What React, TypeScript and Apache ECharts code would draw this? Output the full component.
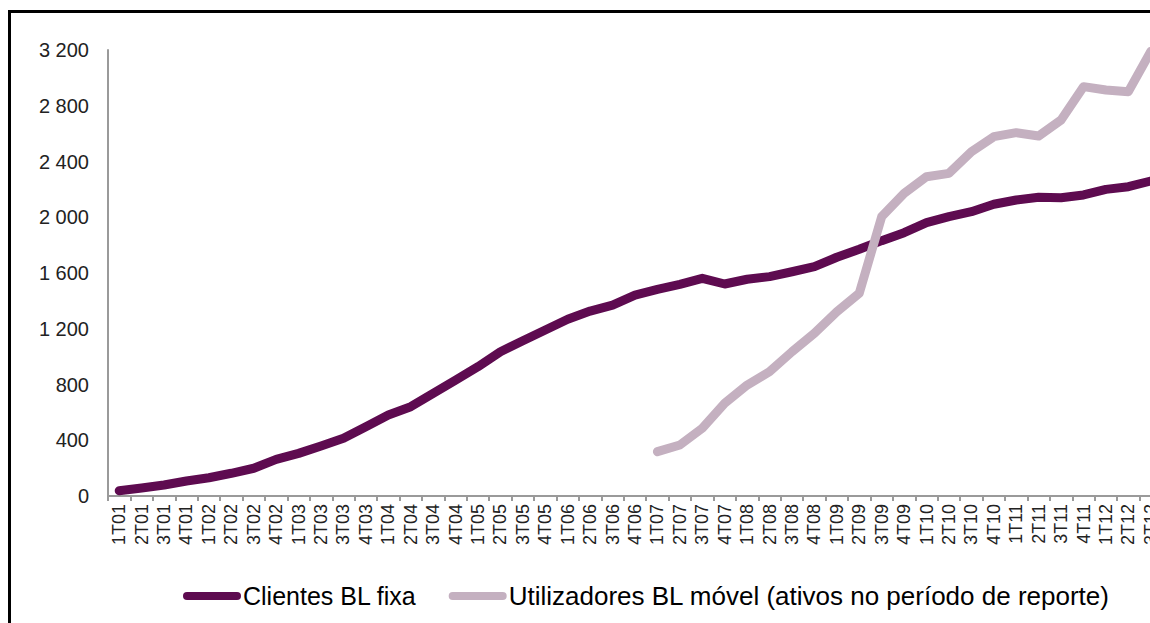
import React, { useEffect, useRef } from "react";
import * as echarts from "echarts";

const categories: string[] = [
  "1T01", "2T01", "3T01", "4T01",
  "1T02", "2T02", "3T02", "4T02",
  "1T03", "2T03", "3T03", "4T03",
  "1T04", "2T04", "3T04", "4T04",
  "1T05", "2T05", "3T05", "4T05",
  "1T06", "2T06", "3T06", "4T06",
  "1T07", "2T07", "3T07", "4T07",
  "1T08", "2T08", "3T08", "4T08",
  "1T09", "2T09", "3T09", "4T09",
  "1T10", "2T10", "3T10", "4T10",
  "1T11", "2T11", "3T11", "4T11",
  "1T12", "2T12", "3T12",
];

const clientesBLFixa: number[] = [
  38, 57, 79, 108,
  131, 163, 199, 263,
  306, 359, 414, 497,
  581, 641, 737, 832,
  928, 1035, 1114, 1191,
  1268, 1327, 1370, 1442,
  1483, 1519, 1562, 1521,
  1555, 1574, 1609, 1645,
  1713, 1770, 1832, 1889,
  1961, 2004, 2040, 2093,
  2124, 2143, 2140, 2160,
  2200, 2219, 2260,
];

const utilizadoresBLMovel: (number | null)[] = [
  null, null, null, null,
  null, null, null, null,
  null, null, null, null,
  null, null, null, null,
  null, null, null, null,
  null, null, null, null,
  318, 366, 486, 665,
  796, 892, 1035, 1167,
  1322, 1454, 2004, 2172,
  2291, 2315, 2470, 2578,
  2607, 2583, 2698, 2937,
  2913, 2901, 3190,
];

const seriesNames = [
  "Clientes BL fixa",
  "Utilizadores BL móvel (ativos no período de reporte)",
];

const yMin = 0;
const yMax = 3200;
const yInterval = 400;

const fmt = (v: number) => {
  const s = String(Math.round(v));
  return s.replace(/\B(?=(\d{3})+(?!\d))/g, " ");
};

export default function App() {
  const ref = useRef<HTMLDivElement>(null);

  useEffect(() => {
    if (!ref.current) return;
    const chart = echarts.init(ref.current, undefined, { renderer: "svg" });
    const font = "'Liberation Sans', Arial, sans-serif";
    const axisGray = "#9a9a9a";
    const capsule =
      "path://M4,0 L54,0 A4,4 0 0 1 54,8 L4,8 A4,4 0 0 1 4,0 Z";
    chart.setOption({
      animation: false,
      backgroundColor: "#ffffff",
      textStyle: { fontFamily: font },
      grid: { left: 108, top: 50, bottom: 127, right: 13, containLabel: false },
      legend: {
        left: 178,
        top: 578,
        itemWidth: 58,
        itemHeight: 8,
        itemGap: 32,
        icon: capsule,
        textStyle: { fontSize: 25, color: "#000", fontFamily: font, padding: [0, 0, 0, -3] },
        data: [
          { name: seriesNames[0] },
          { name: seriesNames[1], textStyle: { fontSize: 26 } },
        ],
      },
      xAxis: {
        type: "category",
        data: categories,
        boundaryGap: true,
        axisLine: { lineStyle: { color: axisGray, width: 2 } },
        axisTick: { show: true, length: 5, lineStyle: { color: axisGray, width: 2 } },
        axisLabel: {
          rotate: 90,
          interval: 0,
          fontSize: 18,
          color: "#222",
          margin: 8,
          fontFamily: font,
        },
      },
      yAxis: {
        type: "value",
        min: yMin,
        max: yMax,
        interval: yInterval,
        splitLine: { show: false },
        axisLine: { show: true, lineStyle: { color: axisGray, width: 2 } },
        axisTick: { show: false },
        axisLabel: {
          fontSize: 20,
          color: "#222",
          margin: 19,
          fontFamily: font,
          formatter: (v: number) => fmt(v),
        },
      },
      series: [
        {
          name: seriesNames[0],
          type: "line",
          data: clientesBLFixa,
          symbol: "none",
          color: "#5e0b50",
          lineStyle: { width: 9, color: "#5e0b50", cap: "round", join: "round" },
          z: 2,
        },
        {
          name: seriesNames[1],
          type: "line",
          data: utilizadoresBLMovel,
          symbol: "none",
          connectNulls: false,
          color: "#c4b0c0",
          lineStyle: { width: 9, color: "#c4b0c0", cap: "round", join: "round" },
          z: 3,
        },
      ],
      graphic: [
        {
          type: "line",
          shape: { x1: 8, y1: 11.5, x2: 1175, y2: 11.5 },
          style: { stroke: "#000", lineWidth: 3 },
          z: 100,
        },
        {
          type: "line",
          shape: { x1: 9.5, y1: 10, x2: 9.5, y2: 623 },
          style: { stroke: "#000", lineWidth: 3 },
          z: 100,
        },
      ],
    });
    return () => chart.dispose();
  }, []);

  return (
    <div
      style={{
        position: "fixed",
        left: 0,
        top: 0,
        width: 1150,
        height: 623,
        overflow: "hidden",
        background: "#fff",
      }}
    >
      <div ref={ref} style={{ width: 1175, height: 623 }} />
    </div>
  );
}
